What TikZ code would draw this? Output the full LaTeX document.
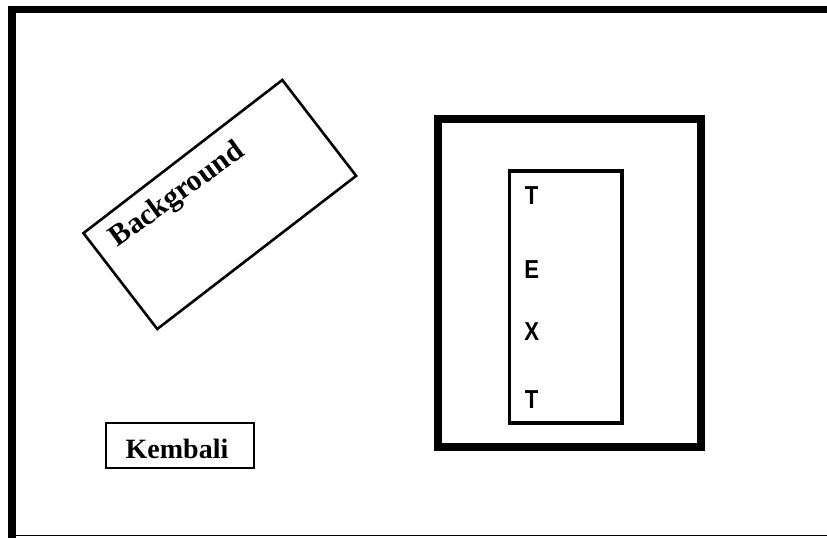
\documentclass[tikz,border=0pt]{standalone}
\usepackage{fontspec}
\setmainfont{Liberation Serif}
\newfontfamily\lettersans{Liberation Sans}
\tikzset{
  thinbox/.style={draw, line width=2pt, inner sep=0pt},
  thickbox/.style={draw, line width=8pt, inner sep=0pt},
  label serif/.style={font=\bfseries\fontsize{28}{32}\selectfont, inner sep=0pt},
  letter/.style={font=\lettersans\bfseries\fontsize{26}{28}\selectfont, inner sep=0pt, xscale=0.85, transform shape},
}
\begin{document}
\begin{tikzpicture}[x=1pt,y=-1pt]
\useasboundingbox (0,0) rectangle (827,538);
\fill[white] (0,0) rectangle (827,538);
% outer frame (open to the right)
\coordinate (ftl) at (8,9.5);
\coordinate (ftr) at (827,9.5);
\coordinate (fl) at (12,9.5);
\coordinate (flb) at (12,538);
\coordinate (fbl) at (12,535.5);
\coordinate (fbr) at (827,535.5);
\draw[line width=7pt] (ftl) -- (ftr);
\draw[line width=8pt] (fl) -- (flb);
\draw[line width=1.5pt] (fbl) -- (fbr);
% rotated Background box
\node[thinbox, line width=2.6pt, minimum width=251pt, minimum height=121pt, rotate=37.6] (bg) at (219.8,204.5) {};
\node[label serif, rotate=36, font=\bfseries\fontsize{30}{34}\selectfont] (bgtext) at (177.5,195.5) {Background};
% Kembali button
\node[thinbox, minimum width=148pt, minimum height=45pt] (kb) at (180,445.5) {};
\node[label serif, anchor=base] (kbtext) at (177,458) {Kembali};
% right panel
\node[thickbox, minimum width=263.5pt, minimum height=327.5pt] (outer) at (569.25,282.75) {};
\node[thinbox, line width=3.2pt, minimum width=112.5pt, minimum height=252pt] (inner) at (565.75,297) {};
\node[letter] (t1) at (531.7,195.5) {T};
\node[letter] (e) at (531.7,270) {E};
\node[letter] (x) at (531.7,332) {X};
\node[letter] (t2) at (531.7,400) {T};
\end{tikzpicture}
\end{document}
